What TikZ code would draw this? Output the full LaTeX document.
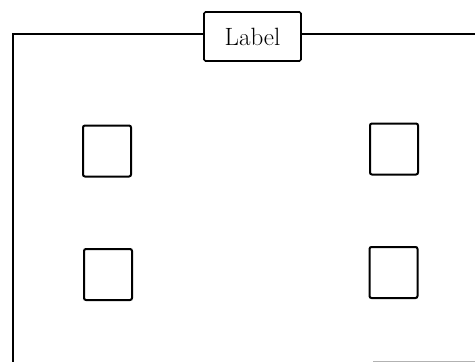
\documentclass[tikz,border=0pt]{standalone}
\usetikzlibrary{calc}

\begin{document}
\begin{tikzpicture}[
  x=1pt, y=-1pt,
  frameline/.style={line width=1.5pt, black},
  tagbox/.style={draw, line width=1.7pt, rounded corners=1.5pt, minimum width=97pt, minimum height=49pt, inner sep=0pt, font=\fontsize{25}{25}\selectfont},
  slot/.style={draw, line width=2pt, rounded corners=2pt, minimum width=48pt, minimum height=51pt, inner sep=0pt},
]
\useasboundingbox (0,0) rectangle (475,362);

% === LABEL AND FRAME ===
\node[tagbox] (label) at (252.5,36.5) {Label};
\coordinate (frameBL) at (13,364);
\coordinate (frameTR) at (477,34);
\draw[frameline] (frameBL) |- (label.west |- frameTR);
\draw[frameline] (label.east |- frameTR) -- (frameTR);
\draw[line width=1pt, gray!60] (373,361.5) -- (477,361.5);

% === SLOTS ===
\node[slot] (slotTL) at (107,151) {};
\node[slot] (slotTR) at (394,149) {};
\node[slot] (slotBL) at (108,274.5) {};
\node[slot] (slotBR) at (393.5,272.5) {};
\end{tikzpicture}
\end{document}
